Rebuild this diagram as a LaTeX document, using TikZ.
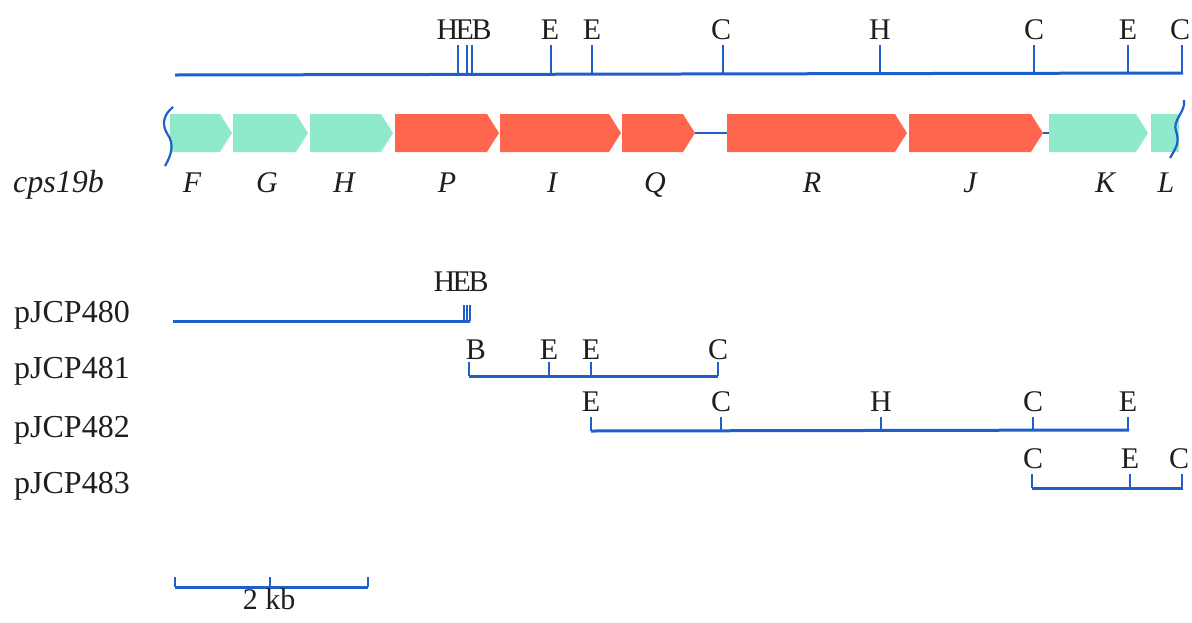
\documentclass[tikz,border=0pt]{standalone}
\usepackage{fontspec}
\setmainfont{Liberation Serif}
\definecolor{mapblue}{HTML}{1F5FCB}
\definecolor{tealgene}{HTML}{8FEACC}
\definecolor{redgene}{HTML}{FF664D}
\definecolor{ink}{HTML}{1E1E1E}
\newcommand\genearrow[4]{%
  \fill[#4] (#2,114) -- (#3-12,114) -- (#3,133) -- (#3-12,152) -- (#2,152) -- cycle;
  \coordinate (#1-s) at (#2,133);
  \coordinate (#1-e) at (#3,133);}
\begin{document}
\begin{tikzpicture}[x=1pt,y=-1pt,
  map/.style={draw=mapblue, line width=3pt},
  tick/.style={draw=mapblue, line width=2.6pt},
  link/.style={draw=mapblue, line width=1.8pt},
  site/.style={font=\fontsize{30}{30}\selectfont, text=ink, anchor=base, inner sep=0pt},
  glabel/.style={font=\fontsize{30}{30}\selectfont\itshape, text=ink, anchor=base, inner sep=0pt},
  rowlabel/.style={font=\fontsize{32}{32}\selectfont, text=ink, anchor=base west, inner sep=0pt}]
\useasboundingbox (0,0) rectangle (1192,622);

% ---- main restriction map ----
\coordinate (m0) at (175,75);
\coordinate (m1) at (1183,73);
\draw[map] (m0) -- (m1);
\foreach \x/\n in {458/t1,467/t2,472/t3,551/t4,592/t5,723/t6,880/t7,1034/t8,1128/t9,1182/t10}{
  \coordinate (\n b) at (\x,74);
  \coordinate (\n a) at (\x,45);
  \draw[tick] (\n a) -- (\n b);
}
\node[site] (lHEB) at (464,39) {H\kern-2.5pt E\kern-2.5pt B};
\node[site] (lE1) at (550,39) {E};
\node[site] (lE2) at (592,39) {E};
\node[site] (lC1) at (721,39) {C};
\node[site] (lH1) at (880,39) {H};
\node[site] (lC2) at (1034,39) {C};
\node[site] (lE3) at (1128,39) {E};
\node[site] (lC3) at (1180,39) {C};

% ---- genes ----
\genearrow{F}{170}{232}{tealgene}
\genearrow{G}{233}{308}{tealgene}
\genearrow{H}{310}{393}{tealgene}
\genearrow{P}{395}{499}{redgene}
\genearrow{I}{500}{621}{redgene}
\genearrow{Q}{622}{695}{redgene}
\genearrow{R}{727}{907}{redgene}
\genearrow{J}{909}{1043}{redgene}
\genearrow{K}{1049}{1148}{tealgene}
\fill[tealgene] (1151,114) rectangle (1179,152);
\coordinate (L-s) at (1151,133);
\draw[link] (Q-e) -- (R-s);
\draw[link] (J-e) -- (K-s);
% break marks
\draw[mapblue, line width=2.2pt] (173,107) .. controls (162,116) and (162,126) .. (168,135)
   .. controls (174,144) and (172,154) .. (165,166);
\draw[mapblue, line width=2.2pt] (1184,100) .. controls (1186,112) and (1172,120) .. (1176,131)
   .. controls (1180,142) and (1176,148) .. (1170,158);

\node[glabel] (gF) at (192,192) {F};
\node[glabel] (gG) at (267,192) {G};
\node[glabel] (gH) at (344,192) {H};
\node[glabel] (gP) at (447,192) {P};
\node[glabel] (gI) at (552,192) {I};
\node[glabel] (gQ) at (655,192) {Q};
\node[glabel] (gR) at (812,192) {R};
\node[glabel] (gJ) at (970,192) {J};
\node[glabel] (gK) at (1105,192) {K};
\node[glabel] (gL) at (1166,192) {L};
\node[rowlabel, font=\fontsize{32}{32}\selectfont\itshape] (cps) at (13,192) {cps19b};

% ---- clones ----
\node[rowlabel] (r480) at (14,322) {pJCP480};
\node[rowlabel] (r481) at (14,378) {pJCP481};
\node[rowlabel] (r482) at (14,437) {pJCP482};
\node[rowlabel] (r483) at (14,493) {pJCP483};

% pJCP480
\coordinate (a0) at (173,321);
\coordinate (a1) at (470,321);
\draw[map] (a0) -- (a1);
\foreach \x/\n in {464/a,467/b,470/c}{
  \coordinate (p0\n t) at (\x,305);
  \coordinate (p0\n b) at (\x,321);
  \draw[tick, line width=2pt] (p0\n t) -- (p0\n b);
}
\node[site] (p0HEB) at (461,291) {H\kern-2.5pt E\kern-2.5pt B};

% pJCP481
\coordinate (b0) at (469,376);
\coordinate (b1) at (718,376);
\draw[map] (b0) -- (b1);
\foreach \x/\n in {469/a,549/b,591/c,718/d}{
  \coordinate (p1\n t) at (\x,362);
  \coordinate (p1\n b) at (\x,376);
  \draw[tick] (p1\n t) -- (p1\n b);
}
\node[site] (p1B) at (476,359) {B};
\node[site] (p1E1) at (549,359) {E};
\node[site] (p1E2) at (591,359) {E};
\node[site] (p1C) at (718,359) {C};

% pJCP482
\coordinate (c0) at (591,431);
\coordinate (c1) at (1129,430);
\draw[map] (c0) -- (c1);
\foreach \x/\n in {591/a,721/b,881/c,1033/d,1128/e}{
  \coordinate (p2\n t) at (\x,417);
  \coordinate (p2\n b) at (\x,431);
  \draw[tick] (p2\n t) -- (p2\n b);
}
\node[site] (p2E1) at (591,411) {E};
\node[site] (p2C1) at (721,411) {C};
\node[site] (p2H) at (881,411) {H};
\node[site] (p2C2) at (1033,411) {C};
\node[site] (p2E2) at (1128,411) {E};

% pJCP483
\coordinate (d0) at (1032,488);
\coordinate (d1) at (1183,488);
\draw[map] (d0) -- (d1);
\foreach \x/\n in {1032/a,1130/b,1182/c}{
  \coordinate (p3\n t) at (\x,474);
  \coordinate (p3\n b) at (\x,488);
  \draw[tick] (p3\n t) -- (p3\n b);
}
\node[site] (p3C1) at (1033,468) {C};
\node[site] (p3E) at (1130,468) {E};
\node[site] (p3C2) at (1179,468) {C};

% ---- scale bar ----
\coordinate (s0) at (175,587);
\coordinate (s1) at (368,587);
\draw[map] (s0) -- (s1);
\foreach \x/\n in {175/a,270/b,368/c}{
  \coordinate (sb\n t) at (\x,577);
  \coordinate (sb\n b) at (\x,587);
  \draw[tick] (sb\n t) -- (sb\n b);
}
\node[site] (kb) at (269,609) {2 kb};
\end{tikzpicture}
\end{document}
